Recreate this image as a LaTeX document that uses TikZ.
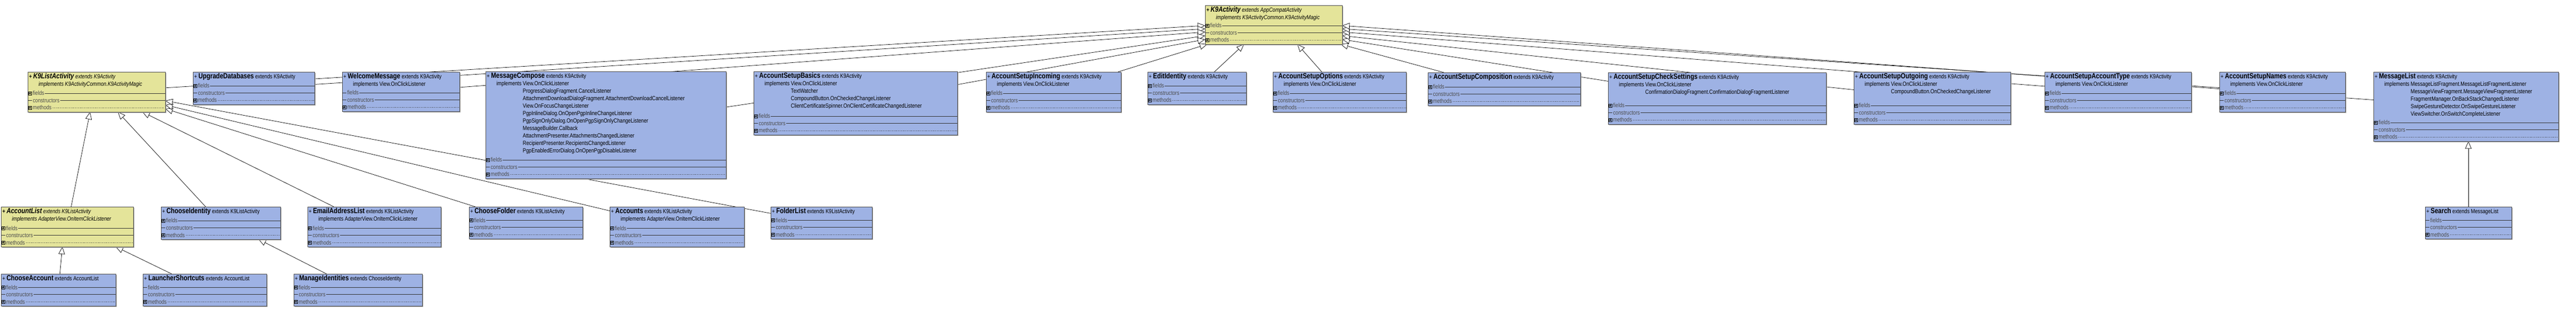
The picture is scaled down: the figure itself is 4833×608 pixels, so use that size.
\documentclass[tikz,border=0pt]{standalone}
\usepackage{fontspec}
\setmainfont{Liberation Sans}[FakeStretch=0.82]
\usetikzlibrary{arrows.meta,calc}
\definecolor{bluebox}{RGB}{158,178,228}
\definecolor{yelbox}{RGB}{228,228,154}
\newcommand\tx{\fontsize{5.6}{7}\selectfont}
\newcommand\nm[1]{{\fontsize{7}{7}\selectfont\bfseries #1}}
\newcommand\ind{\hspace*{9pt}}
\pgfdeclarelayer{bg}\pgfsetlayers{bg,main}
\newcommand\pbx[3]{%
 \draw[line width=0.3pt, fill=#3] (#1+1,#2-3) rectangle (#1+7,#2+3);
 \draw[line width=0.3pt] (#1+4,#2-2) -- (#1+4,#2+2) (#1+2,#2) -- (#1+6,#2);}
\newcommand\ubox[8]{%
 \fill[black!35] (#2+2,#3+2) rectangle (#4+2,#5+2);
 \node[box, fill=#6, minimum width={(#4-#2)*0.5pt}, minimum height={(#5-#3)*0.5pt}, anchor=north west] (#1) at (#2,#3) {};
 \node[hdr] at (#2+2,#3+2) {#8};
 \draw[row] (#2,#5-35) -- (#4,#5-35);
 \draw[row] (#2,#5-21.5) -- (#4,#5-21.5);
 \draw[row, densely dotted, line width=0.25pt] (#2+8,#5-8) -- (#4-1,#5-8);
 \if#7p\pbx{#2}{#5-35}{#6}\fi
 \pbx{#2}{#5-8}{#6}
 \node[rt, fill=#6] at (#2+8,#5-35) {fields};
 \node[rt, fill=#6] at (#2+8,#5-21.5) {constructors};
 \node[rt, fill=#6] at (#2+8,#5-8) {methods};
}
\begin{document}
\begin{tikzpicture}[x=0.5pt,y=-0.5pt,
 box/.style={draw=black!70, line width=0.4pt, inner sep=0pt, outer sep=0pt},
 hdr/.style={anchor=north west, inner sep=0pt, font=\tx, align=left},
 row/.style={line width=0.4pt, draw=black!80},
 rt/.style={anchor=west, inner sep=0.6pt, font=\tx, text=black!70},
 inh/.style={-{Triangle[open,fill=white,length=7pt,width=6pt]}, line width=0.35pt}]
\useasboundingbox (0,0) rectangle (4833,608);
\begin{pgfonlayer}{bg}
\fill[white] (0,0) rectangle (4833,608);
\end{pgfonlayer}

\ubox{k9}{2261}{10}{2518}{83}{yelbox}{p}{\itshape\begin{tabular}{@{}l@{\ }l@{}}\multicolumn{2}{@{}l@{}}{\textbf{+} \nm{K9Activity} extends AppCompatActivity}\\ \ind implements & K9ActivityCommon.K9ActivityMagic\end{tabular}}
\ubox{k9list}{52}{135}{310}{210}{yelbox}{p}{\itshape\begin{tabular}{@{}l@{\ }l@{}}\multicolumn{2}{@{}l@{}}{\textbf{+} \nm{K9ListActivity} extends K9Activity}\\ \ind implements & K9ActivityCommon.K9ActivityMagic\end{tabular}}
\ubox{upgrade}{362}{135}{590}{196}{bluebox}{p}{+ \nm{UpgradeDatabases} extends K9Activity}
\ubox{welcome}{642}{135}{862}{209}{bluebox}{d}{\begin{tabular}{@{}l@{\ }l@{}}\multicolumn{2}{@{}l@{}}{+ \nm{WelcomeMessage} extends K9Activity}\\ \ind implements & View.OnClickListener\end{tabular}}
\ubox{compose}{911}{134}{1362}{335}{bluebox}{p}{\begin{tabular}{@{}l@{\ }l@{}}\multicolumn{2}{@{}l@{}}{+ \nm{MessageCompose} extends K9Activity}\\ \ind implements & View.OnClickListener\\ & ProgressDialogFragment.CancelListener\\ & AttachmentDownloadDialogFragment.AttachmentDownloadCancelListener\\ & View.OnFocusChangeListener\\ & PgpInlineDialog.OnOpenPgpInlineChangeListener\\ & PgpSignOnlyDialog.OnOpenPgpSignOnlyChangeListener\\ & MessageBuilder.Callback\\ & AttachmentPresenter.AttachmentsChangedListener\\ & RecipientPresenter.RecipientsChangedListener\\ & PgpEnabledErrorDialog.OnOpenPgpDisableListener\end{tabular}}
\ubox{basics}{1414}{134}{1796}{253}{bluebox}{p}{\begin{tabular}{@{}l@{\ }l@{}}\multicolumn{2}{@{}l@{}}{+ \nm{AccountSetupBasics} extends K9Activity}\\ \ind implements & View.OnClickListener\\ & TextWatcher\\ & CompoundButton.OnCheckedChangeListener\\ & ClientCertificateSpinner.OnClientCertificateChangedListener\end{tabular}}
\ubox{incoming}{1850}{135}{2103}{210}{bluebox}{p}{\begin{tabular}{@{}l@{\ }l@{}}\multicolumn{2}{@{}l@{}}{+ \nm{AccountSetupIncoming} extends K9Activity}\\ \ind implements & View.OnClickListener\end{tabular}}
\ubox{editid}{2153}{135}{2338}{196}{bluebox}{p}{+ \nm{EditIdentity} extends K9Activity}
\ubox{options}{2388}{135}{2638}{210}{bluebox}{p}{\begin{tabular}{@{}l@{\ }l@{}}\multicolumn{2}{@{}l@{}}{+ \nm{AccountSetupOptions} extends K9Activity}\\ \ind implements & View.OnClickListener\end{tabular}}
\ubox{composition}{2679}{136}{2965}{198}{bluebox}{p}{+ \nm{AccountSetupComposition} extends K9Activity}
\ubox{checksettings}{3017}{136}{3426}{233}{bluebox}{p}{\begin{tabular}{@{}l@{\ }l@{}}\multicolumn{2}{@{}l@{}}{+ \nm{AccountSetupCheckSettings} extends K9Activity}\\ \ind implements & View.OnClickListener\\ & ConfirmationDialogFragment.ConfirmationDialogFragmentListener\end{tabular}}
\ubox{outgoing}{3478}{135}{3772}{233}{bluebox}{p}{\begin{tabular}{@{}l@{\ }l@{}}\multicolumn{2}{@{}l@{}}{+ \nm{AccountSetupOutgoing} extends K9Activity}\\ \ind implements & View.OnClickListener\\ & CompoundButton.OnCheckedChangeListener\end{tabular}}
\ubox{accounttype}{3836}{135}{4111}{210}{bluebox}{p}{\begin{tabular}{@{}l@{\ }l@{}}\multicolumn{2}{@{}l@{}}{+ \nm{AccountSetupAccountType} extends K9Activity}\\ \ind implements & View.OnClickListener\end{tabular}}
\ubox{names}{4164}{135}{4400}{210}{bluebox}{p}{\begin{tabular}{@{}l@{\ }l@{}}\multicolumn{2}{@{}l@{}}{+ \nm{AccountSetupNames} extends K9Activity}\\ \ind implements & View.OnClickListener\end{tabular}}
\ubox{messagelist}{4453}{135}{4800}{265}{bluebox}{p}{\begin{tabular}{@{}l@{\ }l@{}}\multicolumn{2}{@{}l@{}}{+ \nm{MessageList} extends K9Activity}\\ \ind implements & MessageListFragment.MessageListFragmentListener\\ & MessageViewFragment.MessageViewFragmentListener\\ & FragmentManager.OnBackStackChangedListener\\ & SwipeGestureDetector.OnSwipeGestureListener\\ & ViewSwitcher.OnSwitchCompleteListener\end{tabular}}
\ubox{search}{4550}{388}{4712}{448}{bluebox}{d}{+ \nm{Search} extends MessageList}
\ubox{accountlist}{2}{388}{250}{463}{yelbox}{p}{\itshape\begin{tabular}{@{}l@{\ }l@{}}\multicolumn{2}{@{}l@{}}{\textbf{+} \nm{AccountList} extends K9ListActivity}\\ \ind implements & AdapterView.OnItemClickListener\end{tabular}}
\ubox{chooseidentity}{302}{388}{526}{449}{bluebox}{p}{+ \nm{ChooseIdentity} extends K9ListActivity}
\ubox{emaillist}{577}{388}{827}{463}{bluebox}{p}{\begin{tabular}{@{}l@{\ }l@{}}\multicolumn{2}{@{}l@{}}{+ \nm{EmailAddressList} extends K9ListActivity}\\ \ind implements & AdapterView.OnItemClickListener\end{tabular}}
\ubox{choosefolder}{880}{388}{1093}{448}{bluebox}{p}{+ \nm{ChooseFolder} extends K9ListActivity}
\ubox{accounts}{1144}{388}{1396}{463}{bluebox}{p}{\begin{tabular}{@{}l@{\ }l@{}}\multicolumn{2}{@{}l@{}}{+ \nm{Accounts} extends K9ListActivity}\\ \ind implements & AdapterView.OnItemClickListener\end{tabular}}
\ubox{folderlist}{1446}{388}{1636}{448}{bluebox}{p}{+ \nm{FolderList} extends K9ListActivity}
\ubox{chooseaccount}{2}{514}{217}{574}{bluebox}{p}{+ \nm{ChooseAccount} extends AccountList}
\ubox{launcher}{268}{514}{500}{574}{bluebox}{d}{+ \nm{LauncherShortcuts} extends AccountList}
\ubox{manageid}{551}{514}{792}{574}{bluebox}{p}{+ \nm{ManageIdentities} extends ChooseIdentity}

\begin{pgfonlayer}{bg}
\draw[inh] (k9list) -- ($(k9.north west)+(0,38)$);
\draw[inh] (upgrade) -- ($(k9.north west)+(0,44)$);
\draw[inh] (welcome) -- ($(k9.north west)+(0,50)$);
\draw[inh] (compose) -- ($(k9.north west)+(0,57)$);
\draw[inh] (basics) -- ($(k9.north west)+(0,64)$);
\draw[inh] (incoming) -- ($(k9.south west)+(4,0)$);
\draw[inh] (editid) -- ($(k9.south west)+(73,0)$);
\draw[inh] (options) -- ($(k9.south west)+(173,0)$);
\draw[inh] (composition) -- ($(k9.south east)+(-3,0)$);
\draw[inh] (checksettings) -- ($(k9.north east)+(0,64)$);
\draw[inh] (outgoing) -- ($(k9.north east)+(0,57)$);
\draw[inh] (accounttype) -- ($(k9.north east)+(0,50)$);
\draw[inh] (names) -- ($(k9.north east)+(0,44)$);
\draw[inh] (messagelist) -- ($(k9.north east)+(0,38)$);
\draw[inh] (accountlist) -- ($(k9list.south west)+(117,0)$);
\draw[inh] (chooseidentity) -- ($(k9list.south west)+(169,0)$);
\draw[inh] (emaillist) -- ($(k9list.south west)+(215,0)$);
\draw[inh] (choosefolder) -- ($(k9list.south east)+(0,-6)$);
\draw[inh] (accounts) -- ($(k9list.south east)+(0,-13)$);
\draw[inh] (folderlist) -- ($(k9list.south east)+(0,-21)$);
\draw[inh] (chooseaccount) -- ($(accountlist.south west)+(115,0)$);
\draw[inh] (launcher) -- ($(accountlist.south west)+(215,0)$);
\draw[inh] (manageid) -- ($(chooseidentity.south west)+(183,0)$);
\draw[inh] (search) -- ($(messagelist.south west)+(178,0)$);
\end{pgfonlayer}
\end{tikzpicture}
\end{document}
